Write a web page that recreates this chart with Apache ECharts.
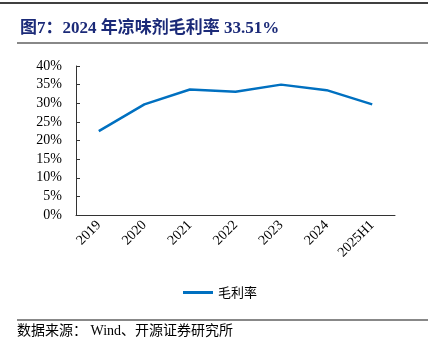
<!DOCTYPE html>
<html><head><meta charset="utf-8">
<script src="https://cdn.jsdelivr.net/npm/echarts@6/dist/echarts.min.js"></script>
<style>html,body{margin:0;padding:0;background:#fff}#c{width:434px;height:346px}</style>
</head><body><div id="c"></div>
<script>
const categories = ['2019','2020','2021','2022','2023','2024','2025H1'];
const grossMargin = [22.5, 29.7, 33.7, 33.1, 35.0, 33.51, 29.7];
const yTicks = [0,5,10,15,20,25,30,35,40];
const seriesName = '毛利率';
const titleText = '图7：2024 年凉味剂毛利率 33.51%';
const sourceText = '数据来源： Wind、开源证券研究所';

const serif = '"Liberation Serif","Times New Roman","Noto Sans CJK SC",serif';
const chart = echarts.init(document.getElementById('c'), null, {renderer:'canvas'});
chart.setOption({
  animation:false,
  backgroundColor:'#fff',
  grid:{left:76, right:39, top:66, bottom:131, containLabel:false},
  xAxis:{type:'category', data:categories, boundaryGap:true,
    axisLine:{lineStyle:{color:'#333', width:1}},
    axisTick:{inside:true, length:4, lineStyle:{color:'#333'}},
    axisLabel:{rotate:45, margin:8, color:'#000', fontSize:14, fontFamily:serif}},
  yAxis:{type:'value', min:yTicks[0], max:yTicks[yTicks.length-1], interval:5,
    axisLine:{show:true, lineStyle:{color:'#333', width:1}},
    axisTick:{show:true, inside:true, length:4, lineStyle:{color:'#333'}},
    splitLine:{show:false},
    axisLabel:{margin:14, color:'#000', fontSize:14, fontFamily:serif, formatter:v=>v+'%'}},
  legend:{data:[seriesName], top:286, left:183, padding:0, icon:'rect', itemWidth:30, itemHeight:3, itemGap:6,
    textStyle:{fontSize:13, color:'#000', fontFamily:'"Noto Sans CJK SC",sans-serif'}},
  series:[{name:seriesName, type:'line', data:grossMargin, symbol:'none',
    lineStyle:{color:'#0070c0', width:2.5}, itemStyle:{color:'#0070c0'}}],
  graphic:[
    {type:'line', shape:{x1:0,y1:3,x2:428,y2:3}, style:{stroke:'#000', lineWidth:1.5}},
    {type:'text', left:20, top:20, style:{text:titleText, font:'bold 17px '+serif, fill:'#1b2a78'}},
    {type:'line', shape:{x1:17,y1:43,x2:428,y2:43}, style:{stroke:'#888', lineWidth:2}},
    {type:'line', shape:{x1:17,y1:320,x2:428,y2:320}, style:{stroke:'#888', lineWidth:2}},
    {type:'text', left:17, top:324, style:{text:sourceText, font:'14px '+serif, fill:'#000'}}
  ]
});
</script></body></html>
